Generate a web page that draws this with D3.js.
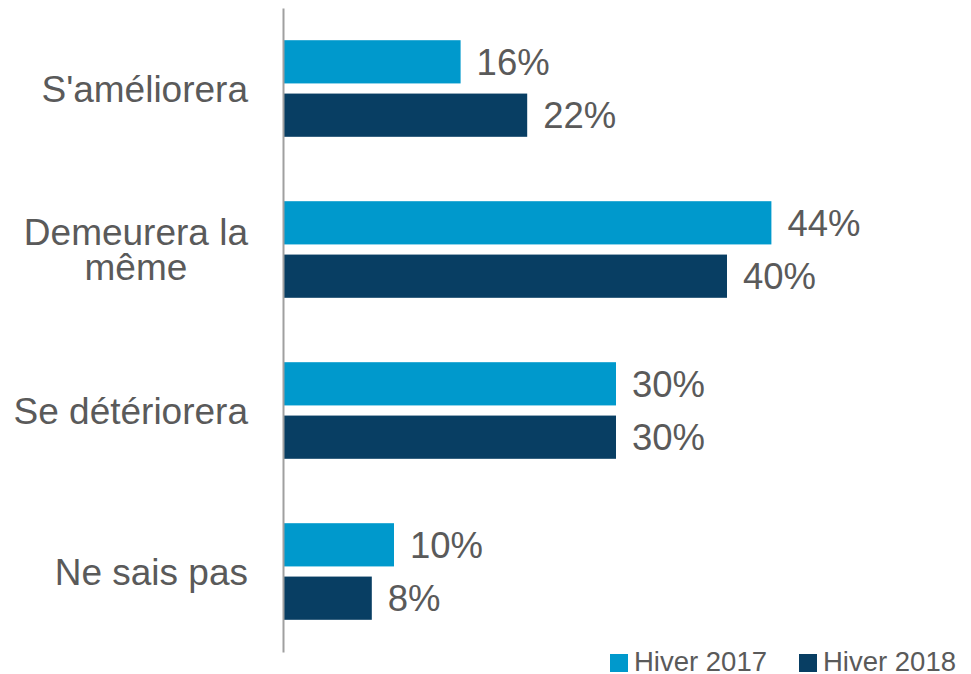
<!DOCTYPE html>
<html>
<head>
<meta charset="utf-8">
<script src="https://cdn.jsdelivr.net/npm/d3@7"></script>
<style>
  html, body { margin: 0; padding: 0; background: #fff; }
  svg text { font-family: Arial, "Liberation Sans", sans-serif; fill: #5a5a5a; }
</style>
</head>
<body>
<div id="chart"></div>
<script>
(function () {
  const categories = ["S'améliorera", "Demeurera la même", "Se détériorera", "Ne sais pas"];
  const seriesNames = ["Hiver 2017", "Hiver 2018"];
  const values2017 = [16, 44, 30, 10];
  const values2018 = [22, 40, 30, 8];
  const colors = ["#0099cc", "#083e63"];

  const width = 971;
  const height = 674;
  const series = [values2017, values2018];

  const svg = d3.select("#chart").append("svg")
    .attr("width", width)
    .attr("height", height);

  const x = d3.scaleLinear()
    .domain([0, 50])
    .range([283, 838]);

  const y = d3.scaleBand()
    .domain(categories)
    .range([8, 652])
    .paddingInner(0.4)
    .paddingOuter(0.2);

  const ySub = d3.scaleBand()
    .domain(seriesNames)
    .range([0, y.bandwidth()])
    .paddingInner(0.19);

  // bars + value labels
  series.forEach(function (vals, si) {
    const g = svg.append("g");
    g.selectAll("rect")
      .data(vals)
      .join("rect")
      .attr("x", x(0))
      .attr("y", (d, i) => y(categories[i]) + ySub(seriesNames[si]))
      .attr("width", d => x(d) - x(0))
      .attr("height", ySub.bandwidth())
      .attr("fill", colors[si]);

    g.selectAll("text")
      .data(vals)
      .join("text")
      .attr("x", d => x(d) + 16)
      .attr("y", (d, i) => y(categories[i]) + ySub(seriesNames[si]) + ySub.bandwidth() / 2)
      .attr("dy", "0.36em")
      .style("font-size", "36.5px")
      .text(d => d + "%");
  });

  // axis line (no ticks)
  svg.append("g")
    .attr("transform", "translate(" + x(0) + ",0)")
    .call(d3.axisLeft(y).tickSize(0).tickFormat(""))
    .call(g => g.select(".domain").attr("stroke", "#a0a0a0").attr("stroke-width", 2));

  // category labels, right-aligned block, wrapped lines centred within it
  const labelRight = 248;
  const lineHeight = 35;
  categories.forEach(function (cat) {
    const words = cat.split(" ");
    const lines = [];
    const probe = svg.append("text").style("font-size", "37px");
    let cur = "";
    words.forEach(function (w) {
      const test = cur ? cur + " " + w : w;
      probe.text(test);
      if (probe.node().getComputedTextLength() > 245 && cur) {
        lines.push(cur);
        cur = w;
      } else {
        cur = test;
      }
    });
    lines.push(cur);
    const widths = lines.map(function (l) {
      probe.text(l);
      return probe.node().getComputedTextLength();
    });
    probe.remove();
    const blockW = d3.max(widths);
    const cy = y(cat) + y.bandwidth() / 2;
    const t = svg.append("text")
      .attr("text-anchor", "middle")
      .style("font-size", "37px");
    lines.forEach(function (l, i) {
      t.append("tspan")
        .attr("x", labelRight - blockW / 2)
        .attr("y", cy + (i - (lines.length - 1) / 2) * lineHeight)
        .attr("dy", "0.36em")
        .text(l);
    });
  });

  // legend
  const legend = svg.append("g");
  let lx = 610;
  seriesNames.forEach(function (name, i) {
    legend.append("rect")
      .attr("x", lx)
      .attr("y", 654)
      .attr("width", 18)
      .attr("height", 18)
      .attr("fill", colors[i]);
    const t = legend.append("text")
      .attr("x", lx + 24)
      .attr("y", 671)
      .style("font-size", "27.5px")
      .text(name);
    lx += 24 + t.node().getComputedTextLength() + 32;
  });
})();
</script>
</body>
</html>
